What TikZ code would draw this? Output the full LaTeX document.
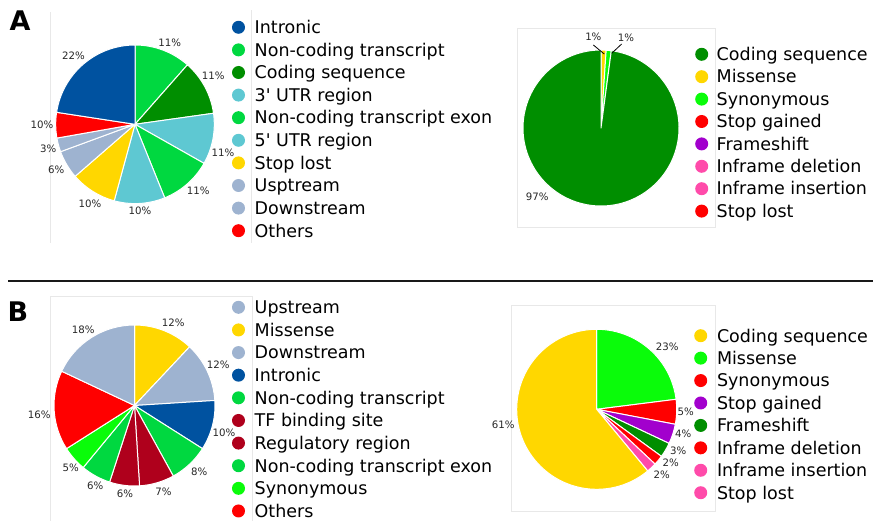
\documentclass[tikz,border=0pt]{standalone}
\usepackage{fontspec}
\setmainfont{DejaVu Sans}[Ligatures=TeXOff]

\definecolor{introblue}{RGB}{0,82,160}
\definecolor{nctgreen}{RGB}{0,216,64}
\definecolor{cdsgreen}{RGB}{0,142,0}
\definecolor{utrcyan}{RGB}{94,200,210}
\definecolor{goldc}{RGB}{255,215,0}
\definecolor{upgrey}{RGB}{158,179,208}
\definecolor{redc}{RGB}{255,0,0}
\definecolor{tfred}{RGB}{175,0,28}
\definecolor{limec}{RGB}{10,252,10}
\definecolor{purplec}{RGB}{162,0,205}
\definecolor{pinkc}{RGB}{255,75,170}

\tikzset{
  slice/.style={draw=white, line width=1pt, line join=round},
  pct/.style={font=\fontsize{10.2}{12}\selectfont, text=black!85, inner sep=0pt},
  legdot/.style={circle, minimum size=13pt, inner sep=0pt},
  legtext/.style={font=\fontsize{17.5}{20}\selectfont, anchor=base west, inner sep=0pt},
  axframe/.style={draw=black!9, line width=0.8pt},
  panel/.style={font=\fontsize{27}{30}\selectfont\bfseries, anchor=base west, inner sep=0pt}
}

\begin{document}
\begin{tikzpicture}[x=1pt,y=-1pt]
  \useasboundingbox (0,0) rectangle (874,521);

  % frames of the four axes
  \draw[axframe] (50,12) -- (50,243) (251.7,10) -- (251.7,243);
  \draw[axframe] (517,28) rectangle (715,227);
  \draw[axframe] (50.7,521) |- (252.3,296.7) -- (252.3,521);
  \draw[axframe] (511.7,305) rectangle (715,511.7);

  \node[panel] (lbl-a) at (9.5,31) {A};
  \node[panel] (lbl-b) at (7.5,321.7) {B};
  \draw[line width=2pt, black!90] (8,280.7) -- (873,280.7);

  % A, consequences of all variants
  \begin{scope}[shift={(135,124.3)}, yscale=-1]
    \foreach \s/\e/\col/\lab/\ang/\rad [count=\i] in {
        90/48.6/nctgreen/11\%/67/89,
        48.6/8/cdsgreen/11\%/31.8/92,
        8/-29.5/utrcyan/11\%/-17.9/92.5,
        -29.5/-68/nctgreen/11\%/-46.5/92,
        -68/-105.2/utrcyan/10\%/-86.7/87,
        -105.2/-139/goldc/10\%/-119.7/91,
        -139/-159.8/upgrey/6\%/-150/91,
        -159.8/-170/upgrey/3\%/-164.5/90,
        -170/-188.7/redc/10\%/-179.5/93,
        -188.7/-270/introblue/22\%/131.9/92}{
      \path[slice, fill=\col] (0,0) -- (\s:79.3) arc[start angle=\s, end angle=\e, radius=79.3] -- cycle;
      \node[pct] (pa-\i) at (\ang:\rad) {\lab};
    }
  \end{scope}
  \foreach \col/\lab [count=\i] in {introblue/Intronic, nctgreen/Non-coding transcript,
      cdsgreen/Coding sequence, utrcyan/3' UTR region, nctgreen/Non-coding transcript exon,
      utrcyan/5' UTR region, goldc/Stop lost, upgrey/Usptream, upgrey/Downstream, redc/Others}{
    \pgfmathsetmacro\yy{27.3+22.6*(\i-1)}
    \node[legdot, fill=\col] (la-dot-\i) at (238.5,\yy) {};
    \node[legtext] (la-\i) at (254.5,\yy+6.3) {\lab};
  }

  % A, coding sequence variants
  \begin{scope}[shift={(601,128)}, yscale=-1]
    \foreach \s/\e/\col/\lab/\ang/\rad [count=\i] in {
        90/86.2/goldc/1\%/94.8/91.6,
        86.2/82.4/limec/1\%/74.6/94,
        82.4/-270/cdsgreen/97\%/-132.8/94}{
      \path[slice, fill=\col] (0,0) -- (\s:78) arc[start angle=\s, end angle=\e, radius=78] -- cycle;
      \node[pct] (pb-\i) at (\ang:\rad) {\lab};
    }
    \coordinate (pb-t1) at (95.3:83.4);
    \coordinate (pb-h1) at (87.4:74);
    \coordinate (pb-t2) at (76.2:86.5);
    \coordinate (pb-h2) at (81.8:75.5);
    \draw[line width=0.8pt] (pb-t1) -- (pb-h1);
    \draw[line width=0.8pt] (pb-t2) -- (pb-h2);
  \end{scope}
  \foreach \col/\lab [count=\i] in {cdsgreen/Coding sequence, goldc/Missense, limec/Synonymous,
      redc/Stop gained, purplec/Frameshift, pinkc/Inframe deletion, pinkc/Inframe insertion, redc/Stop lost}{
    \pgfmathsetmacro\yy{54.3+22.4*(\i-1)}
    \node[legdot, fill=\col] (lb-dot-\i) at (701.7,\yy) {};
    \node[legtext] (lb-\i) at (716.5,\yy+6.3) {\lab};
  }

  % B, consequences of all variants
  \begin{scope}[shift={(134.5,405.5)}, yscale=-1]
    \foreach \s/\e/\col/\lab/\ang/\rad [count=\i] in {
        90/46.8/goldc/12\%/64.9/91.5,
        46.8/3.6/upgrey/12\%/25.8/93,
        3.6/-32.4/introblue/10\%/-16.7/93.4,
        -32.4/-61.2/nctgreen/8\%/-45.6/92.6,
        -61.2/-86.4/tfred/7\%/-71.5/91,
        -86.4/-108/tfred/6\%/-96.1/89,
        -108/-129.6/nctgreen/6\%/-116.1/89.5,
        -129.6/-147.6/limec/5\%/-135.5/89.5,
        -147.6/-205.2/redc/16\%/-174.7/95.6,
        -205.2/-270/upgrey/18\%/123.9/91.8}{
      \path[slice, fill=\col] (0,0) -- (\s:80.5) arc[start angle=\s, end angle=\e, radius=80.5] -- cycle;
      \node[pct] (pc-\i) at (\ang:\rad) {\lab};
    }
  \end{scope}
  \foreach \col/\lab [count=\i] in {upgrey/Upstream, goldc/Missense, upgrey/Downstream,
      introblue/Intronic, nctgreen/Non-coding transcript, tfred/TF binding site,
      tfred/Regulatory region, nctgreen/Non-coding transcript exon, limec/Synonymous, redc/Others}{
    \pgfmathsetmacro\yy{307.3+22.63*(\i-1)}
    \node[legdot, fill=\col] (lc-dot-\i) at (238.5,\yy) {};
    \node[legtext] (lc-\i) at (254.5,\yy+6.3) {\lab};
  }

  % B, coding sequence variants
  \begin{scope}[shift={(596.7,409.3)}, yscale=-1]
    \foreach \s/\e/\col/\lab/\ang/\rad [count=\i] in {
        90/7.2/limec/23\%/41.6/94.4,
        7.2/-10.8/redc/5\%/-1.9/89,
        -10.8/-25.2/purplec/4\%/-16.1/90,
        -25.2/-36/cdsgreen/3\%/-26.7/91.3,
        -36/-43.2/redc/2\%/-36.1/91.6,
        -43.2/-50.4/pinkc/2\%/-45.3/92.4,
        -50.4/-270/goldc/61\%/-170.5/94.7}{
      \path[slice, fill=\col] (0,0) -- (\s:80) arc[start angle=\s, end angle=\e, radius=80] -- cycle;
      \node[pct] (pd-\i) at (\ang:\rad) {\lab};
    }
  \end{scope}
  \foreach \col/\lab [count=\i] in {goldc/Coding sequence, limec/Missense, redc/Synonymous,
      purplec/Stop gained, cdsgreen/Frameshift, redc/Inframe deletion, pinkc/Inframe insertion, pinkc/Stop lost}{
    \pgfmathsetmacro\yy{335.7+22.43*(\i-1)}
    \node[legdot, fill=\col] (ld-dot-\i) at (700.7,\yy) {};
    \node[legtext] (ld-\i) at (716.8,\yy+6.3) {\lab};
  }
\end{tikzpicture}
\end{document}
